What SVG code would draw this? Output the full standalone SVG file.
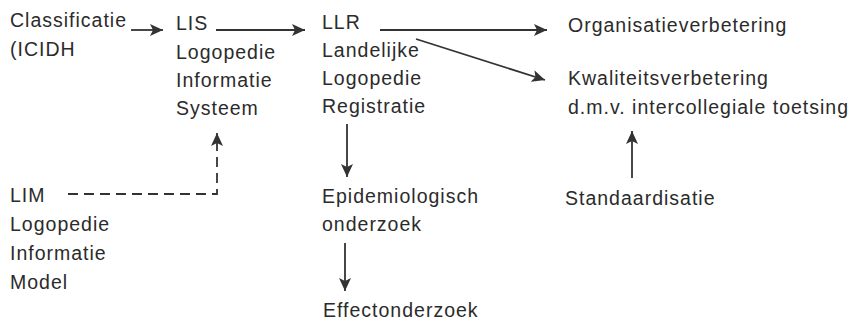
<svg xmlns="http://www.w3.org/2000/svg" width="852" height="323" viewBox="0 0 852 323">
<style>
text{font-family:"Liberation Sans",Arial,sans-serif;font-size:19.5px;fill:#2b2b2b;letter-spacing:1px}
.c{stroke:#333;stroke-width:1.8;fill:none}
.d{stroke-dasharray:10 6}
</style>
<defs>
<marker id="ah" markerUnits="userSpaceOnUse" markerWidth="14" markerHeight="12" refX="13" refY="6" orient="auto">
<path d="M0,0 L13,6 L0,12 L3,6 Z" fill="#333"/>
</marker>
</defs>
<rect width="852" height="323" fill="#fff"/>
<g id="classificatie"><text x="10" y="27">Classificatie</text><text x="10" y="56">(ICIDH</text></g>
<g id="lis"><text x="176" y="30">LIS</text><text x="176" y="59">Logopedie</text><text x="176" y="87">Informatie</text><text x="176" y="115">Systeem</text></g>
<g id="llr"><text x="322" y="29">LLR</text><text x="322" y="57">Landelijke</text><text x="322" y="85">Logopedie</text><text x="322" y="113">Registratie</text></g>
<g id="organisatie"><text x="568" y="32">Organisatieverbetering</text></g>
<g id="kwaliteit"><text x="568" y="85">Kwaliteitsverbetering</text><text x="568" y="114">d.m.v. intercollegiale toetsing</text></g>
<g id="epidemiologisch"><text x="322" y="203">Epidemiologisch</text><text x="322" y="231">onderzoek</text></g>
<g id="effect"><text x="323" y="317">Effectonderzoek</text></g>
<g id="standaardisatie"><text x="565" y="205">Standaardisatie</text></g>
<g id="lim"><text x="10" y="202">LIM</text><text x="10" y="231">Logopedie</text><text x="10" y="260">Informatie</text><text x="10" y="289">Model</text></g>
<g id="connectors">
<line class="c" x1="131" y1="30" x2="163" y2="30" marker-end="url(#ah)"/>
<line class="c" x1="216" y1="30" x2="305" y2="30" marker-end="url(#ah)"/>
<line class="c" x1="380" y1="30" x2="547" y2="30" marker-end="url(#ah)"/>
<line class="c" x1="416" y1="39" x2="545" y2="80" marker-end="url(#ah)"/>
<line class="c" x1="347" y1="124" x2="347" y2="177" marker-end="url(#ah)"/>
<line class="c" x1="345" y1="243" x2="345" y2="291" marker-end="url(#ah)"/>
<line class="c" x1="632" y1="178" x2="632" y2="131" marker-end="url(#ah)"/>
<path class="c d" d="M68,194 H217 V141"/>
<line class="c" x1="217" y1="141" x2="217" y2="133" marker-end="url(#ah)"/>
</g>
</svg>
